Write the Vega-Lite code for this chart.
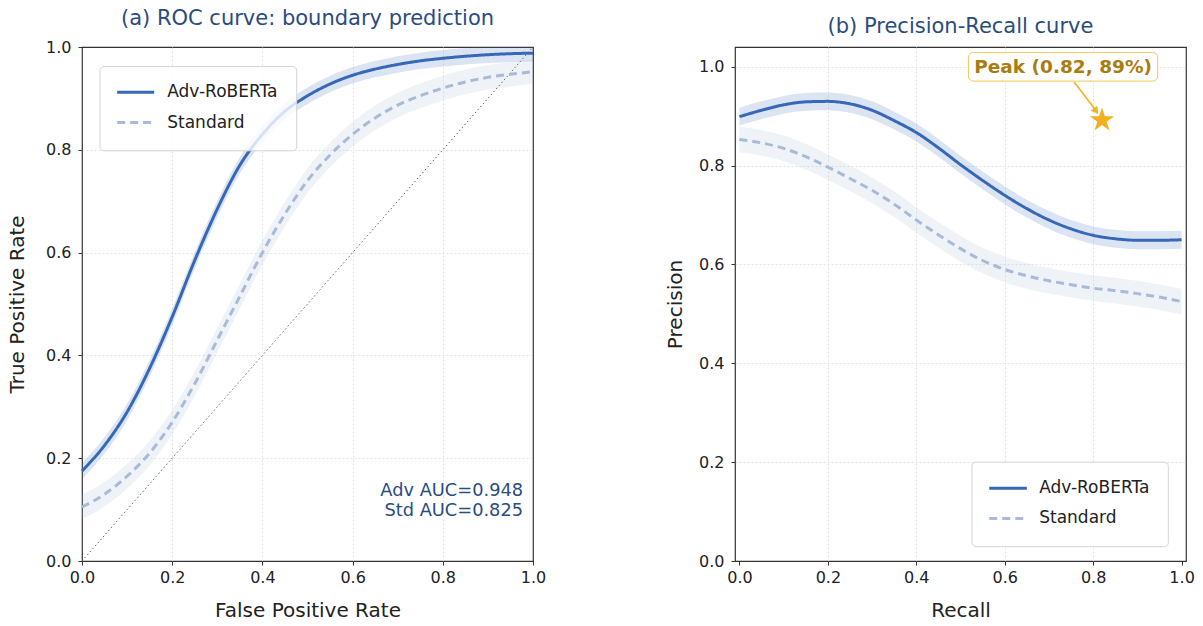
{
  "$schema": "https://vega.github.io/schema/vega-lite/v6.json",
  "padding": {"left": 6, "top": 7, "right": 5, "bottom": 1},
  "config": {
    "font": "DejaVu Sans",
    "view": {"stroke": "#333", "strokeWidth": 1.2},
    "axis": {"labelFontSize": 16, "titleFontSize": 20, "titleFontWeight": "normal", "labelColor": "#222", "titleColor": "#222", "domain": false, "labelFlush": false, "tickColor": "#333", "tickSize": 4, "labelPadding": 4, "titlePadding": 15, "gridColor": "#dedede", "gridDash": [2, 2], "gridWidth": 0.8, "gridOpacity": {"condition": {"test": "datum.value <= 0 || datum.value >= 1", "value": 0}, "value": 1}},
    "title": {"fontSize": 21, "fontWeight": "normal", "color": "#2b4c7e", "offset": 10}
  },
  "datasets": {
    "roc": [
      {"model": "Adv-RoBERTa", "x": 0.0, "y": 0.175, "lo": 0.159, "hi": 0.191},
      {"model": "Adv-RoBERTa", "x": 0.05, "y": 0.225, "lo": 0.209, "hi": 0.241},
      {"model": "Adv-RoBERTa", "x": 0.1, "y": 0.29, "lo": 0.274, "hi": 0.306},
      {"model": "Adv-RoBERTa", "x": 0.15, "y": 0.375, "lo": 0.359, "hi": 0.391},
      {"model": "Adv-RoBERTa", "x": 0.2, "y": 0.475, "lo": 0.459, "hi": 0.491},
      {"model": "Adv-RoBERTa", "x": 0.25, "y": 0.585, "lo": 0.569, "hi": 0.601},
      {"model": "Adv-RoBERTa", "x": 0.3, "y": 0.685, "lo": 0.669, "hi": 0.701},
      {"model": "Adv-RoBERTa", "x": 0.35, "y": 0.77, "lo": 0.754, "hi": 0.786},
      {"model": "Adv-RoBERTa", "x": 0.4, "y": 0.83, "lo": 0.814, "hi": 0.846},
      {"model": "Adv-RoBERTa", "x": 0.45, "y": 0.875, "lo": 0.859, "hi": 0.891},
      {"model": "Adv-RoBERTa", "x": 0.5, "y": 0.905, "lo": 0.889, "hi": 0.921},
      {"model": "Adv-RoBERTa", "x": 0.55, "y": 0.928, "lo": 0.912, "hi": 0.944},
      {"model": "Adv-RoBERTa", "x": 0.6, "y": 0.945, "lo": 0.929, "hi": 0.961},
      {"model": "Adv-RoBERTa", "x": 0.65, "y": 0.957, "lo": 0.941, "hi": 0.973},
      {"model": "Adv-RoBERTa", "x": 0.7, "y": 0.966, "lo": 0.95, "hi": 0.982},
      {"model": "Adv-RoBERTa", "x": 0.75, "y": 0.973, "lo": 0.957, "hi": 0.989},
      {"model": "Adv-RoBERTa", "x": 0.8, "y": 0.978, "lo": 0.962, "hi": 0.994},
      {"model": "Adv-RoBERTa", "x": 0.85, "y": 0.982, "lo": 0.966, "hi": 0.998},
      {"model": "Adv-RoBERTa", "x": 0.9, "y": 0.985, "lo": 0.969, "hi": 1.0},
      {"model": "Adv-RoBERTa", "x": 0.95, "y": 0.987, "lo": 0.971, "hi": 1.0},
      {"model": "Adv-RoBERTa", "x": 1.0, "y": 0.988, "lo": 0.972, "hi": 1.0},
      {"model": "Standard", "x": 0.0, "y": 0.105, "lo": 0.081, "hi": 0.129},
      {"model": "Standard", "x": 0.05, "y": 0.13, "lo": 0.106, "hi": 0.154},
      {"model": "Standard", "x": 0.1, "y": 0.165, "lo": 0.141, "hi": 0.189},
      {"model": "Standard", "x": 0.15, "y": 0.21, "lo": 0.186, "hi": 0.234},
      {"model": "Standard", "x": 0.2, "y": 0.27, "lo": 0.246, "hi": 0.294},
      {"model": "Standard", "x": 0.25, "y": 0.345, "lo": 0.321, "hi": 0.369},
      {"model": "Standard", "x": 0.3, "y": 0.43, "lo": 0.406, "hi": 0.454},
      {"model": "Standard", "x": 0.35, "y": 0.515, "lo": 0.491, "hi": 0.539},
      {"model": "Standard", "x": 0.4, "y": 0.6, "lo": 0.576, "hi": 0.624},
      {"model": "Standard", "x": 0.45, "y": 0.675, "lo": 0.651, "hi": 0.699},
      {"model": "Standard", "x": 0.5, "y": 0.74, "lo": 0.716, "hi": 0.764},
      {"model": "Standard", "x": 0.55, "y": 0.79, "lo": 0.766, "hi": 0.814},
      {"model": "Standard", "x": 0.6, "y": 0.83, "lo": 0.806, "hi": 0.854},
      {"model": "Standard", "x": 0.65, "y": 0.862, "lo": 0.838, "hi": 0.886},
      {"model": "Standard", "x": 0.7, "y": 0.887, "lo": 0.863, "hi": 0.911},
      {"model": "Standard", "x": 0.75, "y": 0.905, "lo": 0.881, "hi": 0.929},
      {"model": "Standard", "x": 0.8, "y": 0.92, "lo": 0.896, "hi": 0.944},
      {"model": "Standard", "x": 0.85, "y": 0.932, "lo": 0.908, "hi": 0.956},
      {"model": "Standard", "x": 0.9, "y": 0.941, "lo": 0.917, "hi": 0.965},
      {"model": "Standard", "x": 0.95, "y": 0.947, "lo": 0.923, "hi": 0.971},
      {"model": "Standard", "x": 1.0, "y": 0.952, "lo": 0.928, "hi": 0.976}
    ],
    "pr": [
      {"model": "Adv-RoBERTa", "x": 0.0, "y": 0.899, "lo": 0.881, "hi": 0.917},
      {"model": "Adv-RoBERTa", "x": 0.05, "y": 0.912, "lo": 0.894, "hi": 0.93},
      {"model": "Adv-RoBERTa", "x": 0.1, "y": 0.923, "lo": 0.905, "hi": 0.941},
      {"model": "Adv-RoBERTa", "x": 0.15, "y": 0.929, "lo": 0.911, "hi": 0.947},
      {"model": "Adv-RoBERTa", "x": 0.2, "y": 0.93, "lo": 0.912, "hi": 0.948},
      {"model": "Adv-RoBERTa", "x": 0.25, "y": 0.925, "lo": 0.907, "hi": 0.943},
      {"model": "Adv-RoBERTa", "x": 0.3, "y": 0.912, "lo": 0.894, "hi": 0.93},
      {"model": "Adv-RoBERTa", "x": 0.35, "y": 0.891, "lo": 0.873, "hi": 0.909},
      {"model": "Adv-RoBERTa", "x": 0.4, "y": 0.867, "lo": 0.849, "hi": 0.885},
      {"model": "Adv-RoBERTa", "x": 0.45, "y": 0.836, "lo": 0.818, "hi": 0.854},
      {"model": "Adv-RoBERTa", "x": 0.5, "y": 0.802, "lo": 0.784, "hi": 0.82},
      {"model": "Adv-RoBERTa", "x": 0.55, "y": 0.77, "lo": 0.752, "hi": 0.788},
      {"model": "Adv-RoBERTa", "x": 0.6, "y": 0.74, "lo": 0.722, "hi": 0.758},
      {"model": "Adv-RoBERTa", "x": 0.65, "y": 0.713, "lo": 0.695, "hi": 0.731},
      {"model": "Adv-RoBERTa", "x": 0.7, "y": 0.69, "lo": 0.672, "hi": 0.708},
      {"model": "Adv-RoBERTa", "x": 0.75, "y": 0.672, "lo": 0.654, "hi": 0.69},
      {"model": "Adv-RoBERTa", "x": 0.8, "y": 0.659, "lo": 0.641, "hi": 0.677},
      {"model": "Adv-RoBERTa", "x": 0.85, "y": 0.652, "lo": 0.634, "hi": 0.67},
      {"model": "Adv-RoBERTa", "x": 0.9, "y": 0.649, "lo": 0.631, "hi": 0.667},
      {"model": "Adv-RoBERTa", "x": 0.95, "y": 0.649, "lo": 0.631, "hi": 0.667},
      {"model": "Adv-RoBERTa", "x": 1.0, "y": 0.65, "lo": 0.632, "hi": 0.668},
      {"model": "Standard", "x": 0.0, "y": 0.853, "lo": 0.827, "hi": 0.879},
      {"model": "Standard", "x": 0.05, "y": 0.846, "lo": 0.82, "hi": 0.872},
      {"model": "Standard", "x": 0.1, "y": 0.835, "lo": 0.809, "hi": 0.861},
      {"model": "Standard", "x": 0.15, "y": 0.818, "lo": 0.792, "hi": 0.844},
      {"model": "Standard", "x": 0.2, "y": 0.797, "lo": 0.771, "hi": 0.823},
      {"model": "Standard", "x": 0.25, "y": 0.774, "lo": 0.748, "hi": 0.8},
      {"model": "Standard", "x": 0.3, "y": 0.75, "lo": 0.724, "hi": 0.776},
      {"model": "Standard", "x": 0.35, "y": 0.722, "lo": 0.696, "hi": 0.748},
      {"model": "Standard", "x": 0.4, "y": 0.69, "lo": 0.664, "hi": 0.716},
      {"model": "Standard", "x": 0.45, "y": 0.66, "lo": 0.634, "hi": 0.686},
      {"model": "Standard", "x": 0.5, "y": 0.632, "lo": 0.606, "hi": 0.658},
      {"model": "Standard", "x": 0.55, "y": 0.608, "lo": 0.582, "hi": 0.634},
      {"model": "Standard", "x": 0.6, "y": 0.59, "lo": 0.564, "hi": 0.616},
      {"model": "Standard", "x": 0.65, "y": 0.577, "lo": 0.551, "hi": 0.603},
      {"model": "Standard", "x": 0.7, "y": 0.567, "lo": 0.541, "hi": 0.593},
      {"model": "Standard", "x": 0.75, "y": 0.559, "lo": 0.533, "hi": 0.585},
      {"model": "Standard", "x": 0.8, "y": 0.552, "lo": 0.526, "hi": 0.578},
      {"model": "Standard", "x": 0.85, "y": 0.547, "lo": 0.521, "hi": 0.573},
      {"model": "Standard", "x": 0.9, "y": 0.541, "lo": 0.515, "hi": 0.567},
      {"model": "Standard", "x": 0.95, "y": 0.534, "lo": 0.508, "hi": 0.56},
      {"model": "Standard", "x": 1.0, "y": 0.525, "lo": 0.499, "hi": 0.551}
    ],
    "diag": [{"x": 0, "y": 0}, {"x": 1, "y": 1}],
    "auc": [
      {"x": 0.978, "y": 0.137, "label": "Adv AUC=0.948"},
      {"x": 0.978, "y": 0.098, "label": "Std AUC=0.825"}
    ],
    "legbox1": [{"x": 0.04, "x2": 0.476, "y": 0.962, "y2": 0.798}],
    "legsym1": [
      {"model": "Adv-RoBERTa", "x": 0.078, "x2": 0.16, "y": 0.912},
      {"model": "Standard", "x": 0.078, "x2": 0.16, "y": 0.853}
    ],
    "leglab1": [
      {"x": 0.189, "y": 0.912, "label": "Adv-RoBERTa"},
      {"x": 0.189, "y": 0.853, "label": "Standard"}
    ],
    "legbox2": [{"x": 0.526, "x2": 0.97, "y": 0.2, "y2": 0.029}],
    "legsym2": [
      {"model": "Adv-RoBERTa", "x": 0.565, "x2": 0.65, "y": 0.147},
      {"model": "Standard", "x": 0.565, "x2": 0.65, "y": 0.086}
    ],
    "leglab2": [
      {"x": 0.678, "y": 0.147, "label": "Adv-RoBERTa"},
      {"x": 0.678, "y": 0.086, "label": "Standard"}
    ],
    "box": [{"x": 0.518, "x2": 0.946, "y": 0.971, "y2": 1.029}],
    "peaklabel": [{"x": 0.732, "y": 1.0, "label": "Peak (0.82, 89%)"}],
    "arrow": [{"x": 0.757, "y": 0.969, "x2": 0.806, "y2": 0.912}],
    "arrowhead": [{"x": 0.805, "y": 0.912}],
    "peak": [{"x": 0.82, "y": 0.892}]
  },
  "hconcat": [
    {
      "width": 451,
      "height": 514,
      "title": {"text": "(a) ROC curve: boundary prediction"},
      "encoding": {
        "x": {"field": "x", "type": "quantitative", "scale": {"domain": [0, 1], "nice": false}, "axis": {"title": "False Positive Rate", "values": [0, 0.2, 0.4, 0.6, 0.8, 1], "format": ".1f"}},
        "y": {"field": "y", "type": "quantitative", "scale": {"domain": [0, 1], "nice": false}, "axis": {"title": "True Positive Rate", "values": [0, 0.2, 0.4, 0.6, 0.8, 1], "format": ".1f", "labelPadding": 7, "titlePadding": 18}}
      },
      "layer": [
        {
          "data": {"name": "roc"},
          "mark": {"type": "area", "opacity": 0.18, "interpolate": "monotone", "clip": true},
          "encoding": {
            "y": {"field": "lo", "type": "quantitative", "title": "True Positive Rate"},
            "y2": {"field": "hi"},
            "fill": {"field": "model", "type": "nominal", "scale": {"domain": ["Adv-RoBERTa", "Standard"], "range": ["#3768b7", "#a9bad9"]}, "legend": null}
          }
        },
        {
          "data": {"name": "diag"},
          "mark": {"type": "line", "color": "#666", "strokeWidth": 1, "strokeDash": [1.5, 2.5]},
          "encoding": {}
        },
        {
          "data": {"name": "roc"},
          "mark": {"type": "line", "strokeWidth": 3, "interpolate": "monotone"},
          "encoding": {
            "color": {"field": "model", "type": "nominal", "scale": {"domain": ["Adv-RoBERTa", "Standard"], "range": ["#3768b7", "#a9bad9"]}, "legend": null},
            "strokeDash": {"field": "model", "type": "nominal", "scale": {"domain": ["Adv-RoBERTa", "Standard"], "range": [[1, 0], [8, 5]]}, "legend": null}
          }
        },
        {
          "data": {"name": "auc"},
          "mark": {"type": "text", "align": "right", "baseline": "middle", "fontSize": 17.8, "color": "#2b4c7e"},
          "encoding": {"text": {"field": "label"}}
        },
        {
          "data": {"name": "legbox1"},
          "mark": {"type": "rect", "fill": "white", "fillOpacity": 0.8, "stroke": "#d4d4d4", "strokeWidth": 1, "cornerRadius": 4},
          "encoding": {"x2": {"field": "x2"}, "y2": {"field": "y2"}}
        },
        {
          "data": {"name": "legsym1"},
          "mark": {"type": "rule", "strokeWidth": 3},
          "encoding": {
            "x2": {"field": "x2"},
            "color": {"field": "model", "type": "nominal", "legend": null},
            "strokeDash": {"field": "model", "type": "nominal", "legend": null}
          }
        },
        {
          "data": {"name": "leglab1"},
          "mark": {"type": "text", "align": "left", "baseline": "middle", "fontSize": 17, "color": "#222"},
          "encoding": {"text": {"field": "label"}}
        }
      ]
    },
    {
      "width": 451,
      "height": 514,
      "title": {"text": "(b) Precision-Recall curve"},
      "encoding": {
        "x": {"field": "x", "type": "quantitative", "scale": {"domain": [-0.01, 1.01], "nice": false}, "axis": {"title": "Recall", "values": [0, 0.2, 0.4, 0.6, 0.8, 1], "format": ".1f"}},
        "y": {"field": "y", "type": "quantitative", "scale": {"domain": [0, 1.04], "nice": false}, "axis": {"title": "Precision", "values": [0, 0.2, 0.4, 0.6, 0.8, 1], "format": ".1f", "labelPadding": 7, "titlePadding": 13, "gridOpacity": {"condition": {"test": "datum.value <= 0", "value": 0}, "value": 1}}}
      },
      "layer": [
        {
          "data": {"name": "pr"},
          "mark": {"type": "area", "opacity": 0.18, "interpolate": "monotone"},
          "encoding": {
            "y": {"field": "lo", "type": "quantitative", "title": "Precision"},
            "y2": {"field": "hi"},
            "fill": {"field": "model", "type": "nominal", "scale": {"domain": ["Adv-RoBERTa", "Standard"], "range": ["#3768b7", "#a9bad9"]}, "legend": null}
          }
        },
        {
          "data": {"name": "pr"},
          "mark": {"type": "line", "strokeWidth": 3, "interpolate": "monotone"},
          "encoding": {
            "color": {"field": "model", "type": "nominal", "scale": {"domain": ["Adv-RoBERTa", "Standard"], "range": ["#3768b7", "#a9bad9"]}, "legend": null},
            "strokeDash": {"field": "model", "type": "nominal", "scale": {"domain": ["Adv-RoBERTa", "Standard"], "range": [[1, 0], [8, 5]]}, "legend": null}
          }
        },
        {
          "data": {"name": "legbox2"},
          "mark": {"type": "rect", "fill": "white", "fillOpacity": 0.8, "stroke": "#d4d4d4", "strokeWidth": 1, "cornerRadius": 4},
          "encoding": {"x2": {"field": "x2"}, "y2": {"field": "y2"}}
        },
        {
          "data": {"name": "legsym2"},
          "mark": {"type": "rule", "strokeWidth": 3},
          "encoding": {
            "x2": {"field": "x2"},
            "color": {"field": "model", "type": "nominal", "legend": null},
            "strokeDash": {"field": "model", "type": "nominal", "legend": null}
          }
        },
        {
          "data": {"name": "leglab2"},
          "mark": {"type": "text", "align": "left", "baseline": "middle", "fontSize": 17, "color": "#222"},
          "encoding": {"text": {"field": "label"}}
        },
        {
          "data": {"name": "box"},
          "mark": {"type": "rect", "fill": "white", "stroke": "#f3c75a", "strokeWidth": 1, "cornerRadius": 5},
          "encoding": {"x2": {"field": "x2"}, "y2": {"field": "y2"}}
        },
        {
          "data": {"name": "peaklabel"},
          "mark": {"type": "text", "align": "center", "baseline": "middle", "fontSize": 18.5, "fontWeight": "bold", "color": "#a97c0f"},
          "encoding": {"text": {"field": "label"}}
        },
        {
          "data": {"name": "arrow"},
          "mark": {"type": "rule", "color": "#f0b323", "strokeWidth": 1.6},
          "encoding": {"x2": {"field": "x2"}, "y2": {"field": "y2"}}
        },
        {
          "data": {"name": "arrowhead"},
          "mark": {"type": "point", "shape": "triangle", "angle": 143, "size": 70, "filled": true, "color": "#f0b323", "opacity": 1},
          "encoding": {}
        },
        {
          "data": {"name": "peak"},
          "mark": {"type": "point", "shape": "M0,-1L0.2245,-0.309L0.951,-0.309L0.363,0.118L0.588,0.809L0,0.382L-0.588,0.809L-0.363,0.118L-0.951,-0.309L-0.2245,-0.309Z", "size": 650, "filled": true, "color": "#f2b01e", "opacity": 1},
          "encoding": {}
        }
      ]
    }
  ],
  "spacing": 117,
  "resolve": {
    "scale": {"color": "independent", "strokeDash": "independent", "fill": "independent"}
  }
}
